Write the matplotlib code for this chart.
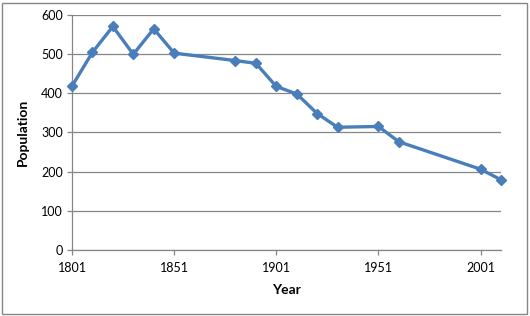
import matplotlib
matplotlib.use("Agg")
import matplotlib.pyplot as plt
from matplotlib.patches import Rectangle

# data
years = [1801, 1811, 1821, 1831, 1841, 1851, 1881, 1891, 1901, 1911,
         1921, 1931, 1951, 1961, 2001, 2011]
population = [418, 504, 570, 499, 564, 502, 483, 476, 417, 398,
              348, 313, 315, 276, 206, 179]
x_ticks = [1801, 1851, 1901, 1951, 2001]
y_ticks = [0, 100, 200, 300, 400, 500, 600]

plt.rcParams['font.family'] = ['Lato', 'DejaVu Sans']

fig = plt.figure(figsize=(5.3, 3.16), dpi=100)
ax = fig.add_axes([72 / 530, 1 - 250 / 316, (501 - 72) / 530, (250 - 14.7) / 316])

grid_col = '#868686'
ax.plot(years, population, color='#4A7EBB', lw=2.4, marker='D', ms=5.5,
        markeredgecolor='#4A7EBB', zorder=3, clip_on=False)

ax.set_xlim(1801, 2011)
ax.set_ylim(0, 600)
ax.set_xticks(x_ticks)
ax.set_yticks(y_ticks)
ax.yaxis.grid(True, color=grid_col, lw=0.9)
ax.set_axisbelow(True)

for s in ['top', 'right']:
    ax.spines[s].set_visible(False)
for s in ['left', 'bottom']:
    ax.spines[s].set_color(grid_col)
    ax.spines[s].set_linewidth(0.9)

ax.tick_params(axis='both', colors=grid_col, length=3.5, width=0.9, labelsize=9,
               labelcolor='black')
ax.tick_params(axis='y', pad=3)
ax.tick_params(axis='x', pad=5)

ax.set_xlabel('Year', fontsize=10, fontweight='bold', labelpad=7)
ax.set_ylabel('Population', fontsize=10, fontweight='bold', labelpad=9)

# outer chart border
fig.patches.append(Rectangle((2 / 530, 2 / 316), 525 / 530, 311 / 316,
                             transform=fig.transFigure, fill=False,
                             edgecolor='#868686', lw=1.0))

fig.savefig('out.png', dpi=100)
